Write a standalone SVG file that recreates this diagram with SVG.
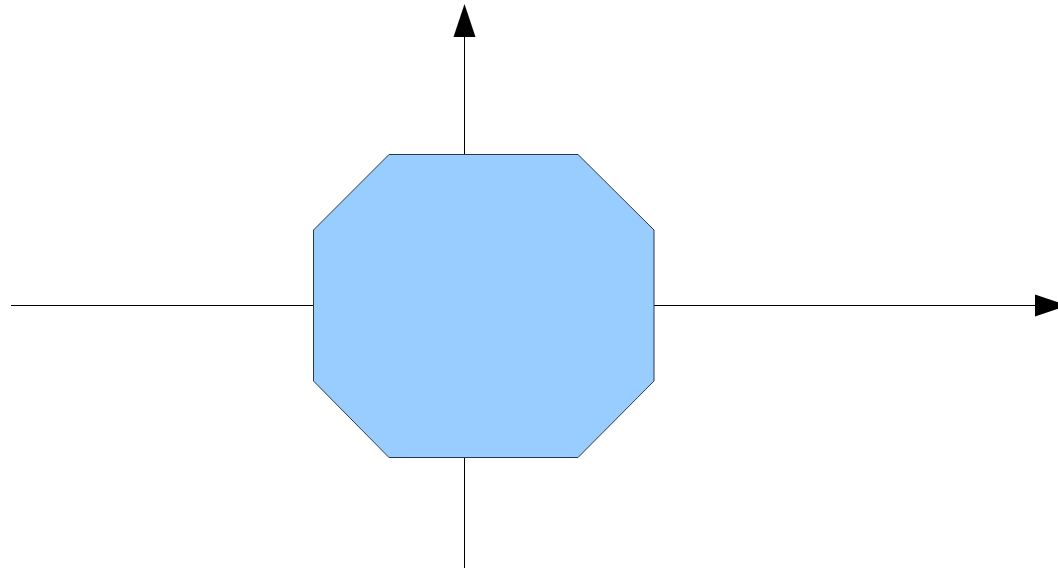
<svg xmlns="http://www.w3.org/2000/svg" width="1058" height="568" viewBox="0 0 1058 568">
<style>
.axis{stroke:#000;stroke-width:1;fill:none}
.head{fill:#000}
.oct{fill:#99ccff;stroke:#2a3a4a;stroke-width:1}
</style>
<rect width="1058" height="568" fill="#fff"/>
<g id="connectors">
<line class="axis" x1="11" y1="305.5" x2="1036" y2="305.5"/>
<polygon class="head" points="1035,294.5 1068,305.5 1035,316.5"/>
<line class="axis" x1="464.5" y1="568" x2="464.5" y2="36"/>
<polygon class="head" points="453.5,37 464.5,4 475.5,37"/>
</g>
<g id="octagon">
<polygon class="oct" points="389,154.5 578,154.5 654,230 654,381 578,457.5 389,457.5 313.5,381 313.5,230"/>
</g>
</svg>
